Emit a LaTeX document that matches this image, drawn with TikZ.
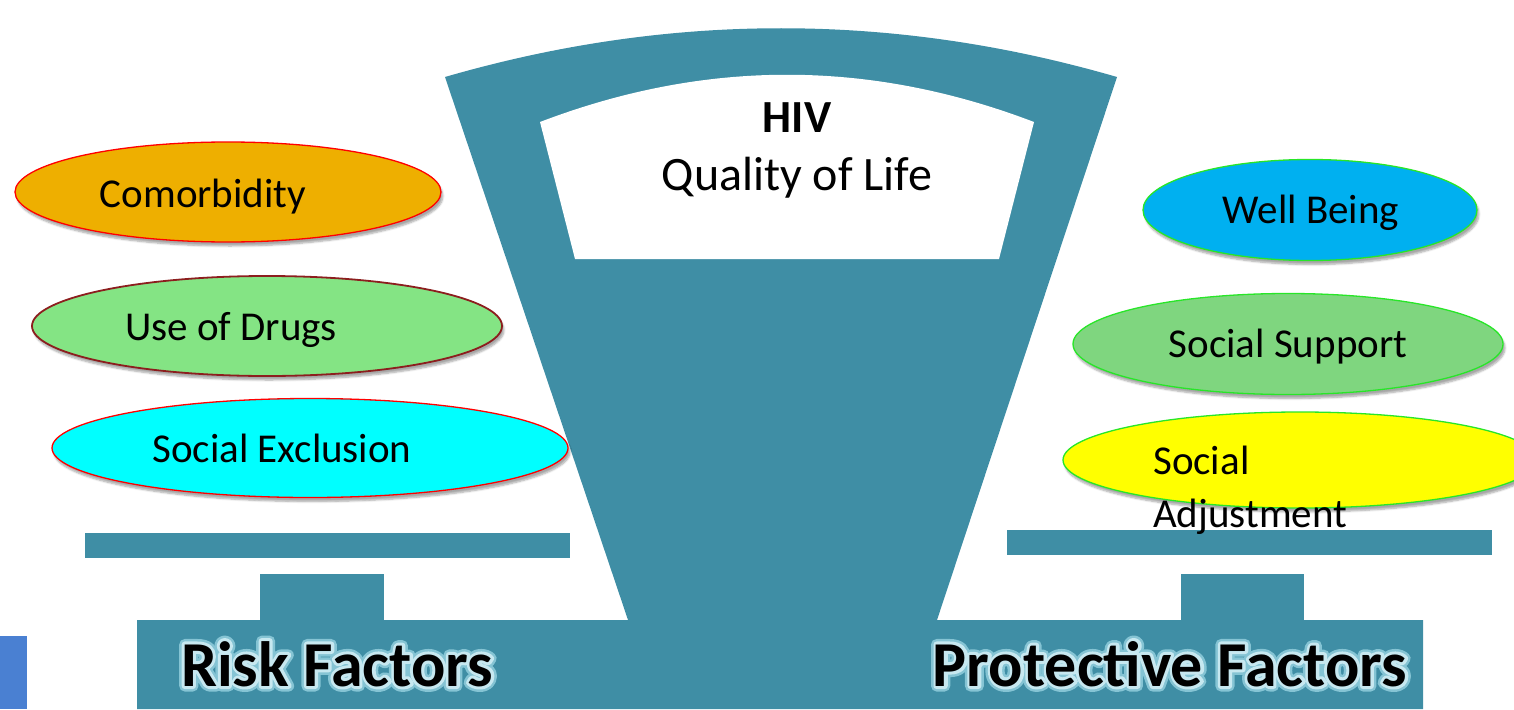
\documentclass[tikz,border=0pt]{standalone}
\usepackage{fontspec}
\setmainfont{Carlito}
\usetikzlibrary{shapes.geometric,shadows.blur}

\definecolor{scaleteal}{RGB}{63,142,165}
\definecolor{blockblue}{RGB}{74,128,210}
\definecolor{comorbid}{RGB}{238,175,0}
\definecolor{drugsin}{RGB}{132,228,132}
\definecolor{drugsout}{RGB}{100,190,100}
\definecolor{drugsrim}{RGB}{140,30,30}
\definecolor{exclusion}{RGB}{0,255,255}
\definecolor{wellbeing}{RGB}{0,176,240}
\definecolor{support}{RGB}{127,214,127}
\definecolor{adjust}{RGB}{255,255,0}
\definecolor{riskrim}{RGB}{255,0,0}
\definecolor{protrim}{RGB}{40,230,40}

\pgfdeclareradialshading{drugshade}{\pgfpoint{0bp}{0bp}}{%
  color(0bp)=(drugsin); color(36bp)=(drugsin); color(50bp)=(drugsout)}

% caption text with a pale halo: stroked copies of the glyphs under the filled text
\newcommand\haloed[1]{%
  \rlap{\special{pdf:literal direct 1 Tr 1 j 11 w 0.52 0.77 0.83 RG}#1\special{pdf:literal direct 0 Tr 0 G}}%
  \rlap{\special{pdf:literal direct 1 Tr 1 j 6 w 0.78 0.91 0.94 RG}#1\special{pdf:literal direct 0 Tr 0 G}}%
  #1}

\tikzset{
  factor/.style={ellipse, inner sep=0pt, line width=1.3pt,
    blur shadow={shadow xshift=2pt, shadow yshift=-4pt,
                 shadow blur steps=6, shadow opacity=35}},
  risk/.style={factor, draw=riskrim},
  protect/.style={factor, draw=protrim},
  lbl/.style={font=\fontsize{41}{49}\selectfont, anchor=base, inner sep=0pt},
  title/.style={font=\fontsize{48}{56}\selectfont, anchor=base, inner sep=0pt},
  side/.style={font=\bfseries\fontsize{64}{72}\selectfont, anchor=base, inner sep=0pt},
}

\begin{document}
\begin{tikzpicture}[x=1pt,y=-1pt]
\useasboundingbox (0,0) rectangle (1514,709);

% balance: head, column and foot
\fill[scaleteal] (445,77) .. controls (669,12) and (893,12) .. (1117,77)
  -- (937,620) -- (1423,620) -- (1423,709) -- (137,709) -- (137,620)
  -- (628,620) -- cycle;
% dial window
\fill[white] (540,122) .. controls (705,59) and (869,59) .. (1034,122)
  -- (999,259) -- (575,259) -- cycle;
% pans and their posts
\fill[scaleteal] (85,533) rectangle (570,558);
\fill[scaleteal] (1007,530) rectangle (1492,555);
\fill[scaleteal] (260,574) rectangle (384,621);
\fill[scaleteal] (1181,574) rectangle (1304,621);

% corner block
\fill[blockblue] (0,636) rectangle (27,709);

% dial text
\node[title, font=\bfseries\fontsize{46}{54}\selectfont] (hiv) at (797,132) {HIV};
\node[title] (qol) at (797,190) {Quality of Life};

% risk factors
\node[risk, fill=comorbid, minimum width=426pt, minimum height=100pt] (comorb) at (228,192) {};
\node[factor, draw=drugsrim, line width=1.8pt, shading=drugshade,
      minimum width=470pt, minimum height=100pt] (drugs) at (267,326) {};
\node[risk, fill=exclusion, minimum width=516pt, minimum height=99pt] (excl) at (310,448) {};

\node[lbl] (comorbtxt) at (203,207) {Comorbidity};
\node[lbl] (drugstxt) at (231,340) {Use of Drugs};
\node[lbl] (excltxt) at (282,462) {Social Exclusion};

% protective factors
\node[protect, fill=wellbeing, minimum width=334pt, minimum height=101pt] (well) at (1310,210) {};
\node[protect, fill=support, minimum width=430pt, minimum height=101pt] (supp) at (1288,344) {};
\node[protect, fill=adjust, minimum width=474pt, minimum height=96pt] (adj) at (1300,460) {};

\node[lbl] (welltxt) at (1311,223) {Well Being};
\node[lbl] (supptxt) at (1288,357) {Social Support};
\node[lbl, anchor=base west] (adjtxta) at (1153,474) {Social};
\node[lbl, anchor=base west] (adjtxtb) at (1153,527) {Adjustment};

% side captions
\node[side] (risklbl) at (337,686) {\haloed{Risk Factors}};
\node[side] (protlbl) at (1170,686) {\haloed{Protective Factors}};
\end{tikzpicture}
\end{document}
